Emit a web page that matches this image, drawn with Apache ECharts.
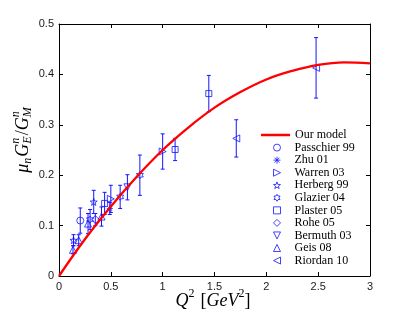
<!DOCTYPE html>
<html><head><meta charset="utf-8">
<script src="https://cdn.jsdelivr.net/npm/echarts@6/dist/echarts.min.js"></script>
<style>html,body{margin:0;padding:0;background:#fff}#c{width:409px;height:312px}</style>
</head><body><div id="c"></div>
<script>
// ---- data ----
const modelQ2    = [0, 0.25, 0.5, 0.75, 1, 1.25, 1.5, 1.75, 2, 2.25, 2.5, 2.75, 3];
const modelRatio = [0, 0.073, 0.138, 0.197, 0.25, 0.295, 0.334, 0.365, 0.39, 0.407, 0.419, 0.424, 0.422];

const passchierQ2 = [0.205];            const passchierVal = [0.110];  const passchierErr = [0.025];
const zhuQ2       = [0.49];             const zhuVal       = [0.134];  const zhuErr       = [0.012];
const warrenQ2    = [0.50, 1.00];       const warrenVal    = [0.153, 0.247]; const warrenErr = [0.027, 0.035];
const herbergQ2   = [0.14, 0.335];      const herbergVal   = [0.071, 0.147]; const herbergErr = [0.011, 0.023];
const glazierQ2   = [0.30, 0.59, 0.78]; const glazierVal   = [0.112, 0.157, 0.200]; const glazierErr = [0.02, 0.023, 0.04];
const plasterQ2   = [0.44, 1.12, 1.445];const plasterVal   = [0.144, 0.251, 0.362]; const plasterErr = [0.022, 0.022, 0.036];
const roheQ2      = [0.35];             const roheVal      = [0.112];  const roheErr      = [0.012];
const bermuthQ2   = [0.66];             const bermuthVal   = [0.176];  const bermuthErr   = [0.025];
const geisQ2      = [0.135, 0.19, 0.28, 0.41]; const geisVal = [0.052, 0.071, 0.104, 0.118]; const geisErr = [0.008, 0.011, 0.02, 0.019];
const riordanQ2   = [1.71, 2.48];       const riordanVal   = [0.273, 0.413]; const riordanErr = [0.037, 0.06];

const xTickLabels = ['0', '0.5', '1', '1.5', '2', '2.5', '3'];
const yTickLabels = ['0', '0.1', '0.2', '0.3', '0.4', '0.5'];

// ---- symbols ----
function starPath(n, ro, ri) {
  let d = '';
  for (let i = 0; i < 2 * n; i++) {
    const r = i % 2 === 0 ? ro : ri;
    const a = -Math.PI / 2 + i * Math.PI / n;
    d += (i === 0 ? 'M' : 'L') + (100 * r * Math.cos(a)).toFixed(2) + ',' + (100 * r * Math.sin(a)).toFixed(2);
  }
  return 'path://' + d + 'Z';
}
const asterisk = 'path://M0,-100L0,100M-100,0L100,0M-70,-70L70,70M-70,70L70,-70';
const triUp = 'path://M0,-100L100,100L-100,100Z';
const triDown = 'path://M-100,-100L100,-100L0,100Z';
const triRight = 'path://M-100,-100L100,0L-100,100Z';
const triLeft = 'path://M100,-100L-100,0L100,100Z';

const BLUE = '#1414ff';
const experiments = [
  { name: 'Passchier 99', q: passchierQ2, v: passchierVal, e: passchierErr, symbol: 'circle', size: 7 },
  { name: 'Zhu 01', q: zhuQ2, v: zhuVal, e: zhuErr, symbol: asterisk, size: 6 },
  { name: 'Warren 03', q: warrenQ2, v: warrenVal, e: warrenErr, symbol: triRight, size: 7 },
  { name: 'Herberg 99', q: herbergQ2, v: herbergVal, e: herbergErr, symbol: starPath(5, 1, 0.4), size: 7 },
  { name: 'Glazier 04', q: glazierQ2, v: glazierVal, e: glazierErr, symbol: starPath(6, 1, 0.58), size: 7 },
  { name: 'Plaster 05', q: plasterQ2, v: plasterVal, e: plasterErr, symbol: 'rect', size: 6 },
  { name: 'Rohe 05', q: roheQ2, v: roheVal, e: roheErr, symbol: 'diamond', size: 8 },
  { name: 'Bermuth 03', q: bermuthQ2, v: bermuthVal, e: bermuthErr, symbol: triDown, size: 7 },
  { name: 'Geis 08', q: geisQ2, v: geisVal, e: geisErr, symbol: triUp, size: 7 },
  { name: 'Riordan 10', q: riordanQ2, v: riordanVal, e: riordanErr, symbol: triLeft, size: 7 }
];

const errData = [];
experiments.forEach(ex => ex.q.forEach((q, i) => errData.push([q, ex.v[i] - ex.e[i], ex.v[i] + ex.e[i]])));

const series = [];
series.push({
  type: 'custom', name: 'err', z: 1, silent: true,
  renderItem(params, api) {
    const x = api.value(0), p1 = api.coord([x, api.value(1)]), p2 = api.coord([x, api.value(2)]);
    const w = 2, st = { stroke: BLUE, lineWidth: 1 };
    return { type: 'group', children: [
      { type: 'line', shape: { x1: p1[0], y1: p1[1], x2: p2[0], y2: p2[1] }, style: st },
      { type: 'line', shape: { x1: p1[0] - w, y1: p1[1], x2: p1[0] + w, y2: p1[1] }, style: st },
      { type: 'line', shape: { x1: p2[0] - w, y1: p2[1], x2: p2[0] + w, y2: p2[1] }, style: st }
    ]};
  },
  data: errData
});
series.push({
  type: 'line', name: 'Our model', z: 5, symbol: 'none', smooth: 0.4,
  lineStyle: { color: '#ff0000', width: 2.3 }, itemStyle: { color: '#ff0000' },
  data: modelQ2.map((q, i) => [q, modelRatio[i]])
});
experiments.forEach(ex => series.push({
  type: 'scatter', name: ex.name, z: 3, symbol: ex.symbol, symbolSize: ex.size,
  itemStyle: { color: 'rgba(0,0,0,0)', borderColor: BLUE, borderWidth: 1 },
  data: ex.q.map((q, i) => [q, ex.v[i]])
}));

// ---- axis titles (mathematical text) ----
const cv = document.createElement('canvas').getContext('2d');
const SERIF = '"Liberation Serif", "DejaVu Serif", serif';
function w(t, size, italic) { cv.font = (italic ? 'italic ' : '') + size + 'px ' + SERIF; return cv.measureText(t).width; }
function txt(t, x, y, size, italic) {
  return { type: 'text', x: x, y: y, style: { text: t, fontFamily: SERIF, fontSize: size, fontStyle: italic ? 'italic' : 'normal', fill: '#000', verticalAlign: 'middle', align: 'left' } };
}
const B = 18, S = 12;
function buildY() {
  const ch = []; let x = 0;
  ch.push(txt('μ', x, 0, B, true)); x += w('μ', B, true);
  ch.push(txt('n', x, 5, S, true)); x += w('n', S, true) + 1;
  ch.push(txt('G', x, 0, B, true)); x += w('G', B, true);
  ch.push(txt('n', x, -7, S, true)); ch.push(txt('E', x, 5, S, true)); x += Math.max(w('n', S, true), w('E', S, true)) + 1;
  ch.push(txt('/', x, 0, B, false)); x += w('/', B, false);
  ch.push(txt('G', x, 0, B, true)); x += w('G', B, true);
  ch.push(txt('n', x, -7, S, true)); ch.push(txt('M', x, 5, S, true)); x += Math.max(w('n', S, true), w('M', S, true));
  ch.forEach(c => c.x -= x / 2);
  return ch;
}
function buildX() {
  const ch = []; let x = 0;
  ch.push(txt('Q', x, 0, B, true)); x += w('Q', B, true);
  ch.push(txt('2', x, -7, S, false)); x += w('2', S, false) + 6;
  ch.push(txt('[', x, 0, B, false)); x += w('[', B, false);
  ch.push(txt('GeV', x, 0, B, true)); x += w('GeV', B, true);
  ch.push(txt('2', x, -7, S, false)); x += w('2', S, false);
  ch.push(txt(']', x, 0, B, false)); x += w(']', B, false);
  ch.forEach(c => c.x -= x / 2);
  return ch;
}

const axisCommon = {
  axisLine: { show: true, onZero: false, lineStyle: { color: '#000', width: 1 } },
  axisTick: { show: true, inside: true, length: 4, lineStyle: { color: '#000' } },
  splitLine: { show: false }
};
const labelStyle = { color: '#1a1a1a', fontFamily: '"Liberation Sans", Arial, sans-serif', fontSize: 11 };
const legendText = { fontFamily: SERIF, fontSize: 12, color: '#000', lineHeight: 12 };

const chart = echarts.init(document.getElementById('c'), null, { renderer: 'canvas' });
chart.setOption({
  animation: false,
  backgroundColor: '#fff',
  grid: { left: 59, right: 39, top: 24, bottom: 36 },
  xAxis: [
    Object.assign({ type: 'value', min: 0, max: 3, interval: 0.5, position: 'bottom',
      axisLabel: Object.assign({ margin: 5, formatter: (v) => xTickLabels[Math.round(v / 0.5)] }, labelStyle) }, axisCommon),
    Object.assign({ type: 'value', min: 0, max: 3, interval: 0.5, position: 'top', axisLabel: { show: false } }, axisCommon)
  ],
  yAxis: [
    Object.assign({ type: 'value', min: 0, max: 0.5, interval: 0.1, position: 'left',
      axisLabel: Object.assign({ margin: 5, formatter: (v) => yTickLabels[Math.round(v / 0.1)] }, labelStyle) }, axisCommon),
    Object.assign({ type: 'value', min: 0, max: 0.5, interval: 0.1, position: 'right', axisLabel: { show: false } }, axisCommon)
  ],
  legend: [
    {
      orient: 'vertical', left: 261, top: 129, padding: 0, itemGap: 0,
      itemWidth: 29, itemHeight: 2.5, icon: 'rect', selectedMode: false,
      textStyle: legendText,
      data: ['Our model']
    },
    {
      orient: 'vertical', left: 273, top: 141.6, padding: 0, itemGap: 0.55,
      itemWidth: 7, itemHeight: 7, symbolKeepAspect: true, selectedMode: false,
      itemStyle: { color: 'rgba(0,0,0,0)', borderColor: BLUE, borderWidth: 1 },
      textStyle: Object.assign({ padding: [0, 0, 0, 9] }, legendText),
      data: experiments.map(e => e.name)
    }
  ],
  graphic: [
    { type: 'group', x: 213, y: 301, children: buildX() },
    { type: 'group', x: 23, y: 140, rotation: Math.PI / 2, children: buildY() }
  ],
  series: series
});
</script></body></html>
